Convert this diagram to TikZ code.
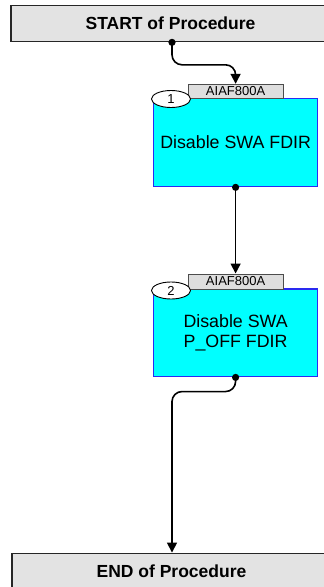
\documentclass[tikz,border=0pt]{standalone}
\usepackage{fontspec}
\setmainfont{Liberation Sans}
\usetikzlibrary{shapes.geometric,arrows.meta,calc}
\definecolor{boxgray}{HTML}{E3E3E3}
\definecolor{tabgray}{HTML}{DEDEDE}
\definecolor{stepcyan}{HTML}{00FFFF}
\definecolor{stepblue}{HTML}{2A2AF0}
\tikzset{
  termbox/.style={draw=black!85, line width=1.5pt, fill=boxgray, rectangle, inner sep=0pt,
    minimum width=319pt, minimum height=36pt, font=\fontsize{17.5}{20}\selectfont\bfseries},
  stepbox/.style={draw=stepblue, line width=1.3pt, fill=stepcyan, rectangle, inner sep=0pt,
    minimum width=164pt, align=center, font=\fontsize{17.8}{20}\selectfont},
  tabbox/.style={draw=black!70, line width=1pt, fill=tabgray, rectangle, inner sep=0pt,
    minimum width=95pt, minimum height=14pt, font=\fontsize{13}{14}\selectfont},
  numell/.style={draw=black, line width=0.9pt, fill=white, ellipse, inner sep=0pt,
    minimum width=39pt, minimum height=17pt, font=\fontsize{13}{14}\selectfont},
  conn/.style={line width=1.6pt, draw=black, rounded corners=10pt, -{Triangle[width=10pt,length=10pt]}},
  dotmark/.style={fill=black}
}
\begin{document}
\begin{tikzpicture}[x=1pt,y=-1pt]
\clip (0,0) rectangle (324,587);
\useasboundingbox (0,0) rectangle (324,587);
\node[termbox] (start) at (170.5,23.6) {START of Procedure};
\node[termbox] (end) at (171.5,571.3) {END of Procedure};
\coordinate (s0) at ($(start.south)+(1.5,0)$);
\coordinate (e0) at ($(end.north)+(0.5,0)$);

\node[stepbox, minimum height=88.4pt] (box1) at (235.6,142.5) {Disable SWA FDIR};
\node[tabbox] (tab1) at (235.6,91.3) {AIAF800A};
\node[numell] (n1) at (171,99) {1};

\node[stepbox, minimum height=87.7pt] (box2) at (235.6,332.9) {Disable SWA\\P\_OFF FDIR};
\node[tabbox, minimum height=15pt] (tab2) at (235.6,281.5) {AIAF800A};
\node[numell] (n2) at (171,290.5) {2};

\draw[conn] (s0) |- ($(tab1.north)+(0,-19)$) -- (tab1.north);
\draw[conn] (box1.south) -- (tab2.north);
\draw[conn] (box2.south) |- ($(e0)+(0,-161)$) -- (e0);

\fill[dotmark] (s0) circle (3.6);
\fill[dotmark] (box1.south) circle (3.6);
\fill[dotmark] (box2.south) circle (3.6);
\end{tikzpicture}
\end{document}
